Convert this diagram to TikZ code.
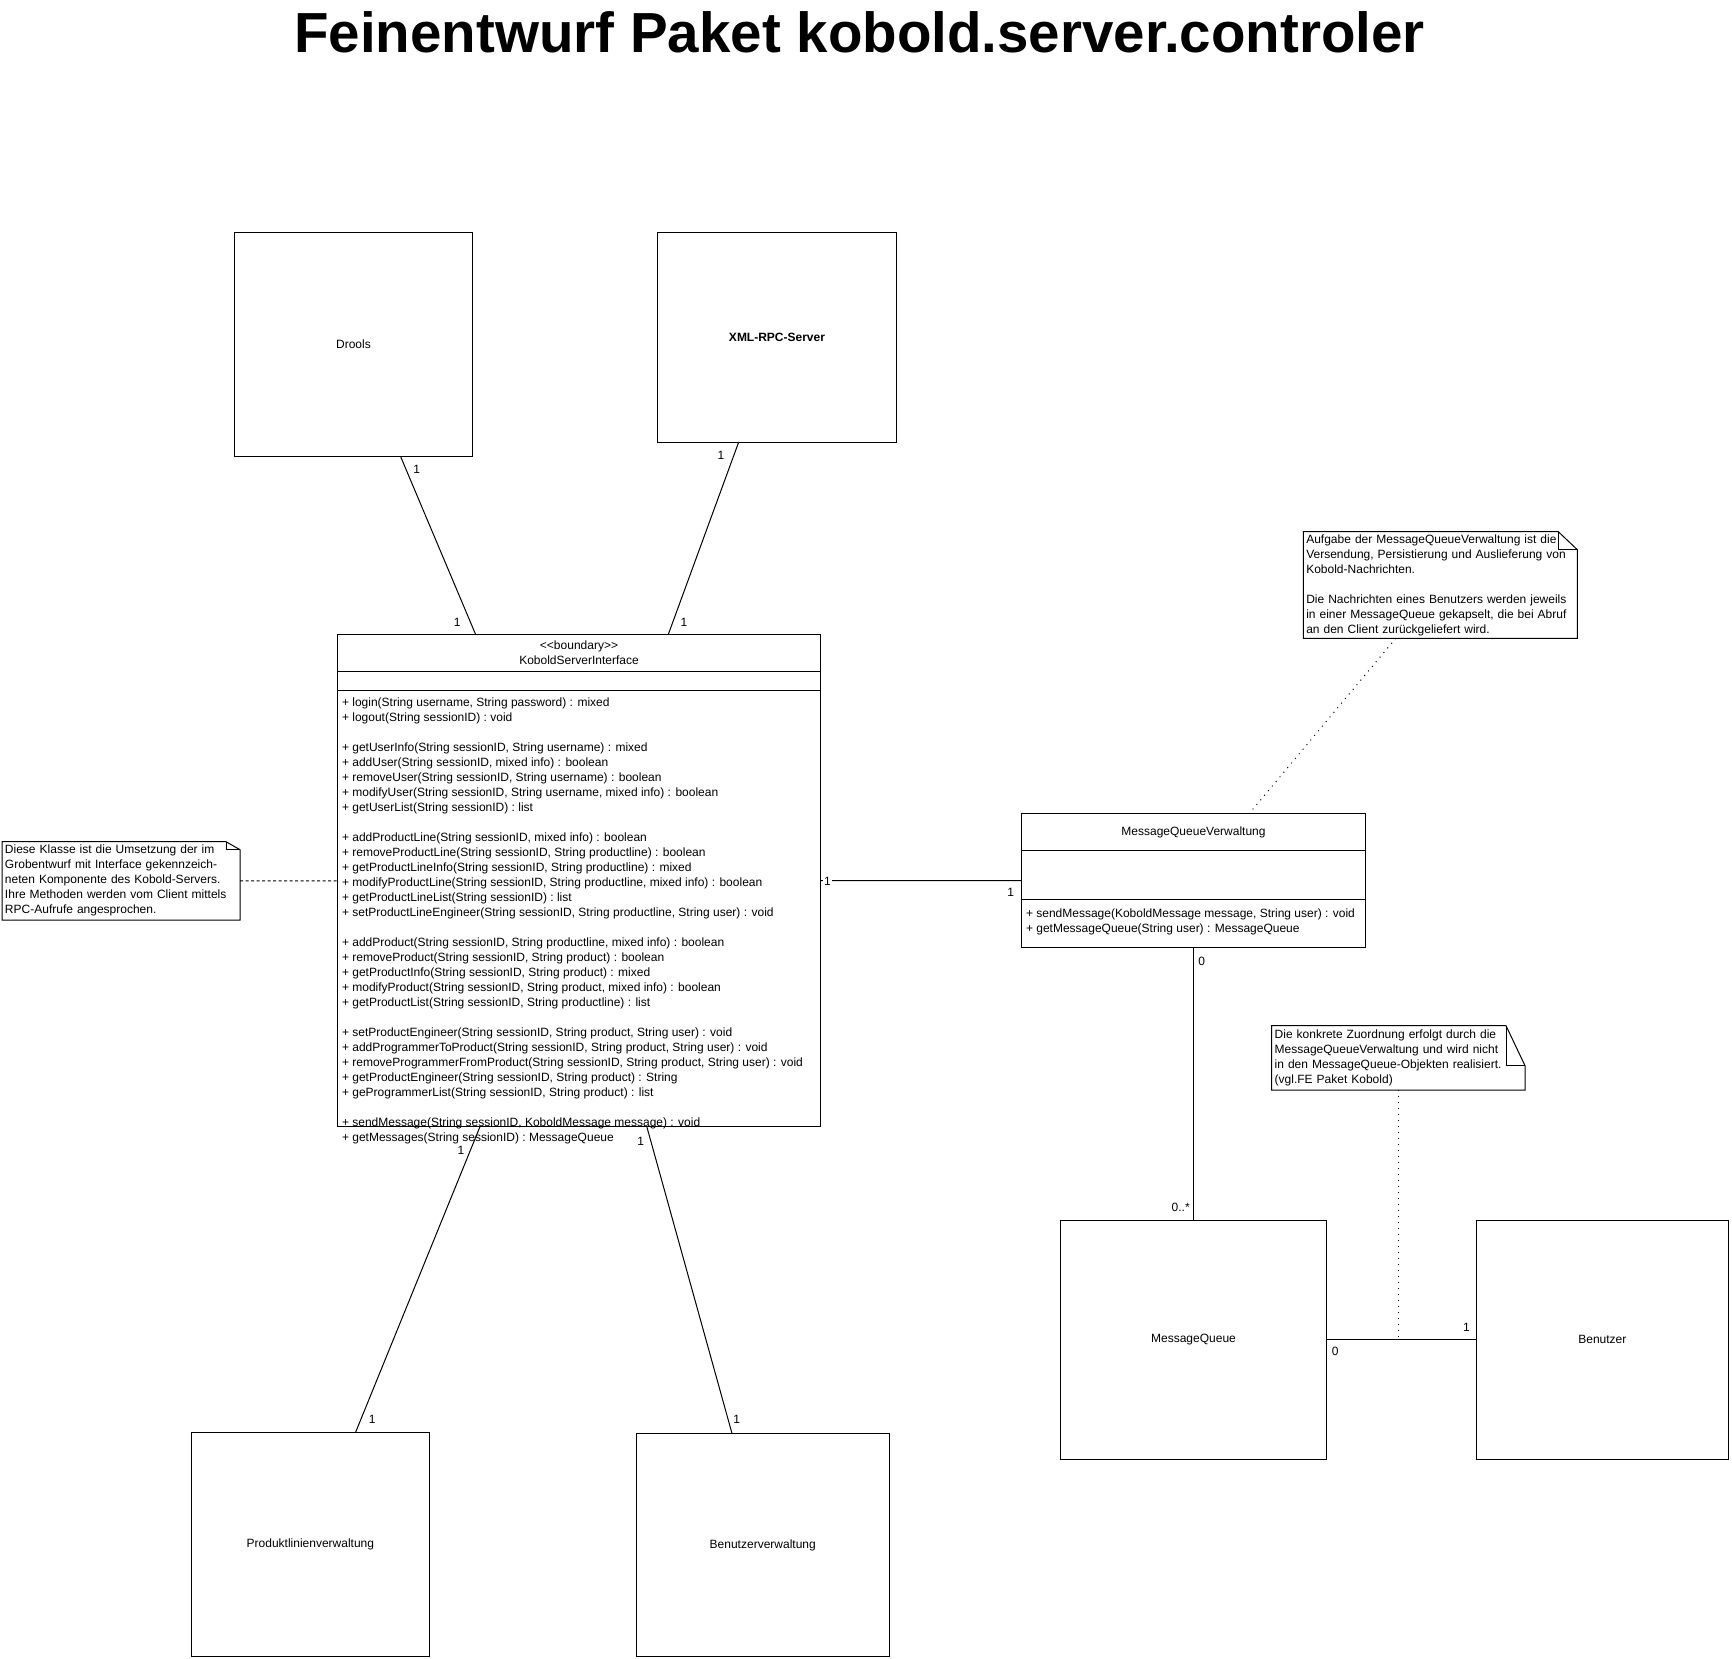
\documentclass[tikz,border=0pt]{standalone}
\usepackage{fontspec}
\setmainfont{Liberation Sans}
\usetikzlibrary{calc}
\def\foldnote(#1)(#2:#3){\draw (#1.south west) -- (#1.north west) -- ([xshift=-#2]#1.north east) -- ([yshift=-#3]#1.north east) -- (#1.south east) -- cycle; \draw ([xshift=-#2]#1.north east) |- ([yshift=-#3]#1.north east);}
\tikzset{
  box/.style={draw, rectangle, inner sep=0pt, outer sep=0pt},
  note/.style={rectangle, inner xsep=3pt, inner ysep=1pt, outer sep=0pt, align=left},
  ops/.style={anchor=north west, inner sep=0pt, align=left},
  mult/.style={inner sep=0pt},
}

\begin{document}
\begin{tikzpicture}[x=1pt, y=-1pt, line width=1pt, font=\fontsize{12}{15}\selectfont]
			%%%%% START %%%%%
			\def\hdone{37pt}
			\def\hdtwo{55.6pt}
			\def\mqone{37.4pt}
			\def\mqtwo{86pt}
			
			\useasboundingbox (0,0) rectangle (1732,1659);
			\fill[white] (0,0) rectangle (1732,1659);
			
			\node (title) [anchor=base, font=\fontsize{56.5}{60}\selectfont\bfseries] at (859.5,53) {Feinentwurf Paket kobold.server.controler};
			
			\node[box, minimum width=238.4pt, minimum height=224pt] (drools) at (353.5,344.3) {Drools};
			\node[box, minimum width=239.4pt, minimum height=209.7pt, font=\fontsize{12}{15}\selectfont\bfseries] (xmlrpc) at (777,337.2) {XML-RPC-Server};
			
			% KoboldServerInterface
			\node[box, minimum width=483.4pt, minimum height=492pt] (ksi) at (579,880.7) {};
			\node (ksihead) [align=center] at (579,653) {{<}{<}boundary{>}{>}\\KoboldServerInterface};
			\draw ([yshift=-\hdone]ksi.north west) -- ([yshift=-\hdone]ksi.north east);
			\draw ([yshift=-\hdtwo]ksi.north west) -- ([yshift=-\hdtwo]ksi.north east);
			
			% MessageQueueVerwaltung
			\node[box, minimum width=344pt, minimum height=134.4pt] (mqv) at (1193.5,880.5) {};
			\node (mqvhead) at (1193.5,832.2) {MessageQueueVerwaltung};
			\draw ([yshift=-\mqone]mqv.north west) -- ([yshift=-\mqone]mqv.north east);
			\draw ([yshift=-\mqtwo]mqv.north west) -- ([yshift=-\mqtwo]mqv.north east);
			
			\node[box, minimum width=266.3pt, minimum height=238.6pt] (mq) at (1193.5,1339.9) {MessageQueue};
			\node[box, minimum width=252.7pt, minimum height=238.6pt] (ben) at (1602.35,1339.9) {Benutzer};
			\node[box, minimum width=238.6pt, minimum height=224.2pt] (prodlv) at (310.4,1544.8) {Produktlinienverwaltung};
			\node[box, minimum width=252.9pt, minimum height=223.1pt] (benv) at (762.75,1545.35) {Benutzerverwaltung};
			
			% notes
			\node[note, text width=232pt, minimum height=78.3pt] (notel) at (121,880.85) {Diese Klasse ist die Umsetzung der im\\Grobentwurf mit Interface gekennzeich-\\neten Komponente des Kobold-Servers.\\Ihre Methoden werden vom Client mittels\\RPC-Aufrufe angesprochen.};
			\foldnote(notel)(14pt:8pt)
			\node[note, text width=268pt, minimum height=106.6pt] (noter) at (1440.3,585) {Aufgabe der MessageQueueVerwaltung ist die\\Versendung, Persistierung und Auslieferung von\\Kobold-Nachrichten.\\[15pt]Die Nachrichten eines Benutzers werden jeweils\\in einer MessageQueue gekapselt, die bei Abruf\\an den Client zurückgeliefert wird.};
			\foldnote(noter)(19pt:18pt)
			\node[note, text width=247.3pt, minimum height=64.3pt] (noteb) at (1398.35,1057.85) {Die konkrete Zuordnung erfolgt durch die\\MessageQueueVerwaltung und wird nicht\\in den MessageQueue-Objekten realisiert.\\(vgl.FE Paket Kobold)};
			\foldnote(noteb)(19pt:40pt)
			
			% associations
			\draw (drools) -- (ksi);
			\draw (xmlrpc) -- (ksi);
			\draw (ksi) -- (prodlv);
			\draw (ksi) -- (benv);
			\draw (ksi) -- (mqv);
			\draw (mqv) -- (mq);
			\draw (mq) -- (ben);
			\draw[dash pattern=on 3pt off 2.5pt] (notel) -- (ksi);
			\draw[dash pattern=on 1pt off 5pt] (noter) -- (mqv);
			\draw[dash pattern=on 1pt off 5pt] (noteb.south) -- (noteb.south |- mq.east);
			
			% operations
			\node[ops] (ksiops) at (341.5,697.5) {+ login(String username, String password) : mixed\\
+ logout(String sessionID) : void\\[15pt]
+ getUserInfo(String sessionID, String username) : mixed\\
+ addUser(String sessionID, mixed info) : boolean\\
+ removeUser(String sessionID, String username) : boolean\\
+ modifyUser(String sessionID, String username, mixed info) : boolean\\
+ getUserList(String sessionID) : list\\[15pt]
+ addProductLine(String sessionID, mixed info) : boolean\\
+ removeProductLine(String sessionID, String productline) : boolean\\
+ getProductLineInfo(String sessionID, String productline) : mixed\\
+ modifyProductLine(String sessionID, String productline, mixed info) : boolean\\
+ getProductLineList(String sessionID) : list\\
+ setProductLineEngineer(String sessionID, String productline, String user) : void\\[15pt]
+ addProduct(String sessionID, String productline, mixed info) : boolean\\
+ removeProduct(String sessionID, String product) : boolean\\
+ getProductInfo(String sessionID, String product) : mixed\\
+ modifyProduct(String sessionID, String product, mixed info) : boolean\\
+ getProductList(String sessionID, String productline) : list\\[15pt]
+ setProductEngineer(String sessionID, String product, String user) : void\\
+ addProgrammerToProduct(String sessionID, String product, String user) : void\\
+ removeProgrammerFromProduct(String sessionID, String product, String user) : void\\
+ getProductEngineer(String sessionID, String product) : String\\
+ geProgrammerList(String sessionID, String product) : list\\[15pt]
+ sendMessage(String sessionID, KoboldMessage message) : void\\
+ getMessages(String sessionID) : MessageQueue};
			\node[ops] (mqvops) at (1025.5,908) {+ sendMessage(KoboldMessage message, String user) : void\\+ getMessageQueue(String user) : MessageQueue};
			
			% multiplicities
			\node[mult] (mdra) at (416.7,469.3) {1};
			\node[mult] (mdrb) at (457.3,622) {1};
			\node[mult] (mxma) at (721,455) {1};
			\node[mult] (mxmb) at (684,622) {1};
			\node[mult, fill=white, inner xsep=0.8pt] (mmqa) at (827.5,881.7) {1};
			\node[mult] (mmqb) at (1010.7,892.7) {1};
			\node[mult] (mmva) at (1201.7,961.5) {0};
			\node[mult] (mmvb) at (1180.7,1207) {0..*};
			\node[mult] (mmba) at (1335.3,1351.5) {0};
			\node[mult] (mmbb) at (1466.5,1327.5) {1};
			\node[mult] (mpla) at (461,1150) {1};
			\node[mult] (mplb) at (372.3,1419.4) {1};
			\node[mult] (mbva) at (640.7,1141.7) {1};
			\node[mult] (mbvb) at (736.8,1419.4) {1};
			%%%%% END %%%%%
\end{tikzpicture}
\end{document}
